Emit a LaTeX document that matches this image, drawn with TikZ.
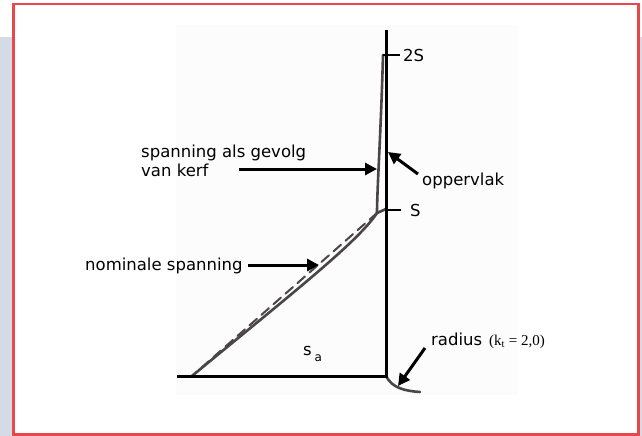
\documentclass[tikz,border=0pt]{standalone}
\usepackage{fontspec}
\setmainfont{DejaVu Sans}
\newfontfamily\serieffont{Liberation Serif}
\usetikzlibrary{arrows.meta, positioning}
\definecolor{framered}{HTML}{E9484B}
\definecolor{sidegray}{HTML}{D4DBE6}
\definecolor{curvegray}{HTML}{4A4547}
\begin{document}
\begin{tikzpicture}[
  x=1pt, y=-1pt,
  every node/.style={font=\fontsize{16.5}{19}\selectfont, inner sep=0pt, align=left},
  axisline/.style={draw=black, line width=3pt},
  kromme/.style={draw=curvegray, line width=2.6pt, line cap=round},
  pijl/.style={draw=black, line width=3pt, -{Triangle[length=12pt, width=12pt]}}
]
\useasboundingbox (0,0) rectangle (642,436);
\fill[sidegray] (0,37) rectangle (642,436);
\fill[white] (13.5,4) rectangle (638.5,434.5);
\draw[framered, line width=2.7pt] (13.5,4) rectangle (638.5,434.5);
\fill[black!1] (176,25) rectangle (518,395);

\coordinate (top) at (386,30);
\coordinate (hoek) at (386,376);
\coordinate (links) at (177,376);
\coordinate (knik) at (377,213);
\coordinate (voet) at (192,376);

\draw[kromme] (383,55) .. controls (381,130) and (377,190) .. (knik);
\draw[kromme] (386,209) -- (knik) .. controls (358,242) and (290,295) .. (voet);
\draw[kromme, dashed, dash pattern=on 10pt off 6pt, line width=2pt] (knik) -- (voet);
\draw[kromme] (hoek) .. controls (392,388) and (405,391) .. (420,392);

\draw[axisline] (top) -- (hoek) -- (links);
\draw[line width=2.5pt] (383,55) -- (400,55);
\draw[line width=2.5pt] (386,210) -- (401,210);

\node[anchor=base west] (tweeS) at (403,61) {2S};
\node[anchor=base west] (S) at (410,216) {S};
\node[anchor=base west] (gevolg) at (141,176) {spanning als gevolg\\van kerf};
\node[anchor=base west] (oppervlak) at (422,185) {oppervlak};
\node[anchor=base west] (nominaal) at (85,270) {nominale spanning};
\node[anchor=base west] (sa) at (303,355) {s\,\raisebox{-6pt}{\fontsize{12}{12}\selectfont a}};
\node[anchor=base west] (radius) at (431,345) {radius\hspace{7pt}{\serieffont\fontsize{15}{15}\selectfont (k\textsubscript{t} = 2,0)}};

\coordinate (kerfstaart) at (239,169);
\coordinate (kerfpunt) at (377,169);
\coordinate (opstaart) at (418,174);
\coordinate (oppunt) at (388,152);
\coordinate (nomstaart) at (248,265);
\coordinate (nompunt) at (319,265);
\coordinate (radstaart) at (425,348);
\coordinate (radpunt) at (398,386);

\draw[pijl] (kerfstaart) -- (kerfpunt);
\draw[pijl] (opstaart) -- (oppunt);
\draw[pijl] (nomstaart) -- (nompunt);
\draw[pijl] (radstaart) -- (radpunt);
\end{tikzpicture}
\end{document}
